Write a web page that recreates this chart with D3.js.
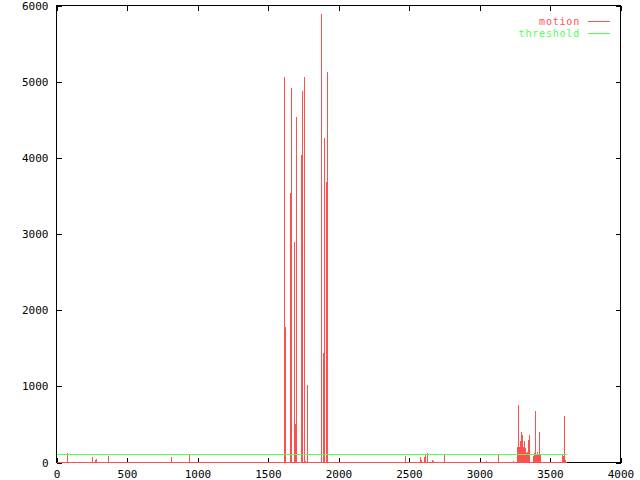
<!DOCTYPE html>
<html>
<head>
<meta charset="utf-8">
<script src="https://cdn.jsdelivr.net/npm/d3@7/dist/d3.min.js"></script>
<style>
  body { margin: 0; background: #fff; }
  svg { display: block; }
  text { font-family: "DejaVu Sans Mono", monospace; font-size: 11px; }
</style>
</head>
<body>
<div id="chart"></div>
<script>
// frame index of each non-zero motion sample (all other frames are 0)
const frames = [78, 255, 277, 284, 362, 369, 816, 943,
  1617, 1624, 1660, 1667, 1681, 1688, 1695, 1702, 1738, 1745, 1759, 1766, 1780,
  1879, 1894, 1901, 1915, 1922,
  2475, 2582, 2589, 2610, 2617, 2631, 2667, 2674, 2752, 3050, 3135, 3213, 3241,
  3270, 3277, 3284, 3291, 3298, 3305, 3312, 3319, 3326, 3333, 3340, 3348, 3355,
  3362, 3369, 3376, 3383, 3390, 3397, 3404, 3411, 3418, 3426, 3433,
  3589, 3596, 3603, 3610];
const motion = [122, 70, 28, 43, 10, 83, 70, 105,
  5059, 1774, 3539, 4915, 10, 2895, 503, 4533, 4038, 4879, 5059, 15, 1012,
  5891, 1436, 4262, 3683, 5129,
  88, 70, 39, 66, 96, 131, 39, 20, 105, 22, 96, 10, 22,
  197, 749, 197, 276, 407, 355, 210, 276, 188, 131, 144, 289, 363,
  13, 13, 13, 79, 131, 670, 92, 144, 92, 394, 92,
  118, 79, 604, 39];
const firstFrame = 0;
const lastFrame = 3617;
const threshold = 100;

const xTicks = [0, 500, 1000, 1500, 2000, 2500, 3000, 3500, 4000];
const yTicks = [0, 1000, 2000, 3000, 4000, 5000, 6000];
const seriesNames = ['motion', 'threshold'];

const W = 640, H = 480;
const red = '#ff5050', green = '#50ff50';

const svg = d3.select('#chart').append('svg')
    .attr('width', W)
    .attr('height', H)
    .attr('shape-rendering', 'crispEdges');

const x = d3.scaleLinear().domain([0, 4000]).range([56.5, 620.5]);
const y = d3.scaleLinear().domain([0, 6000]).range([462.5, 5.5]);
const px = v => Math.round(x(v) - 0.5) + 0.5;
const py = v => Math.round(y(v) - 0.5) + 0.5;

// border
svg.append('rect')
    .attr('x', x(0)).attr('y', y(6000))
    .attr('width', x(4000) - x(0)).attr('height', y(0) - y(6000))
    .attr('fill', 'none').attr('stroke', '#000');

// axes with inward ticks, mirrored on top and right
const axBottom = svg.append('g').attr('transform', `translate(0,${y(0)})`)
    .call(d3.axisBottom(x).tickValues(xTicks).tickSize(-5).tickPadding(8).tickFormat(d3.format('d')));
const axLeft = svg.append('g').attr('transform', `translate(${x(0)},0)`)
    .call(d3.axisLeft(y).tickValues(yTicks).tickSize(-5).tickPadding(8).tickFormat(d3.format('d')));
const axTop = svg.append('g').attr('transform', `translate(0,${y(6000)})`)
    .call(d3.axisTop(x).tickValues(xTicks).tickSize(-5).tickFormat(''));
const axRight = svg.append('g').attr('transform', `translate(${x(4000)},0)`)
    .call(d3.axisRight(y).tickValues(yTicks).tickSize(-5).tickFormat(''));

[axBottom, axLeft, axTop, axRight].forEach(g => {
  g.select('.domain').remove();
  g.selectAll('line').attr('stroke', '#000');
  g.selectAll('text').attr('fill', '#000')
      .style('font-family', '"DejaVu Sans Mono", monospace').style('font-size', '11px');
});

// motion as impulses
const pts = frames.map((f, i) => ({ f: f, v: motion[i] }));

svg.append('line')
    .attr('x1', px(firstFrame)).attr('x2', px(lastFrame))
    .attr('y1', py(0)).attr('y2', py(0))
    .attr('stroke', red);

svg.selectAll('.impulse')
    .data(pts)
  .enter().append('line')
    .attr('class', 'impulse')
    .attr('x1', d => px(d.f)).attr('x2', d => px(d.f))
    .attr('y1', py(0)).attr('y2', d => y(d.v))
    .attr('stroke', red);

// threshold
svg.append('line')
    .attr('x1', px(firstFrame)).attr('x2', px(lastFrame))
    .attr('y1', py(threshold)).attr('y2', py(threshold))
    .attr('stroke', green);

// legend
const legend = svg.append('g');
seriesNames.forEach((name, i) => {
  const ly = 21.5 + i * 12;
  const c = i === 0 ? red : green;
  legend.append('text')
      .attr('x', 580).attr('y', ly).attr('dy', '0.35em')
      .attr('text-anchor', 'end').attr('fill', c)
      .style('font-size', '10px').style('letter-spacing', '0.8px')
      .text(name);
  legend.append('line')
      .attr('x1', 588).attr('x2', 610)
      .attr('y1', ly).attr('y2', ly)
      .attr('stroke', c);
});
</script>
</body>
</html>
